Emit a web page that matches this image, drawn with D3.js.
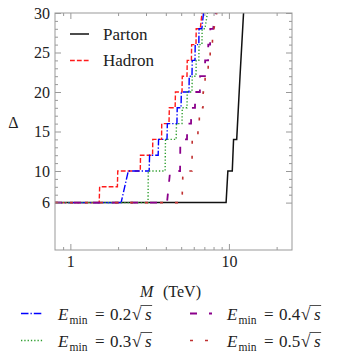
<!DOCTYPE html>
<html>
<head>
<meta charset="utf-8">
<script src="https://cdn.jsdelivr.net/npm/d3@7"></script>
<style>
body { margin: 0; background: #fff; }
text { font-family: "Liberation Serif", "DejaVu Serif", serif; fill: #222; }
</style>
</head>
<body>
<div id="chart"></div>
<script>
// step curves, mass M (TeV) vs Delta
var partonM = [0.8, 9.6, 9.85, 10.5, 10.7, 11.2, 11.75, 12.45];
var partonD = [6, 6, 10, 10, 14, 14, 22, 31];

var hadronM = [0.8, 1.52, 1.53, 1.98, 1.99, 2.76, 2.77, 3.30, 3.31, 3.76, 3.77, 4.19, 4.21, 4.58, 4.60, 5.06, 5.08, 5.44, 5.46, 5.80, 5.82, 6.20, 6.22, 6.60, 6.85];
var hadronD = [6, 6, 8, 8, 10, 10, 12, 12, 14, 14, 16, 16, 18, 18, 20, 20, 22, 22, 24, 24, 26, 26, 28, 28, 31];

var e02M = [0.8, 2.09, 2.32, 3.14, 3.16, 3.58, 3.60, 4.07, 4.09, 4.70, 4.72, 4.99, 5.01, 5.60, 5.62, 5.85, 5.87, 6.11, 6.13, 6.46, 6.48, 6.75, 7.0];
var e02D = [6, 6, 10, 10, 12, 12, 14, 14, 16, 16, 18, 18, 20, 20, 22, 22, 24, 24, 26, 26, 28, 28, 31];

var e03M = [0.8, 3.09, 3.10, 3.96, 3.98, 4.65, 4.67, 5.06, 5.08, 5.44, 5.46, 5.85, 5.87, 6.20, 6.22, 6.46, 6.48, 6.76, 6.78, 7.06, 7.45];
var e03D = [6, 6, 10, 10, 14, 14, 16, 16, 18, 18, 20, 20, 22, 22, 24, 24, 26, 26, 28, 28, 31];

var e04M = [0.8, 4.07, 4.26, 4.92, 4.94, 5.44, 5.46, 5.77, 5.79, 6.11, 6.13, 6.56, 6.58, 7.06, 7.08, 7.39, 7.41, 7.61, 7.63, 7.95, 8.40];
var e04D = [6, 6, 10, 10, 14, 14, 16, 16, 18, 18, 20, 20, 22, 22, 24, 24, 26, 26, 28, 28, 31];

var e05M = [0.8, 5.06, 5.13, 5.85, 5.87, 6.37, 6.39, 6.50, 6.52, 6.86, 6.88, 7.06, 7.08, 7.39, 7.41, 7.61, 7.63, 7.87, 7.89, 8.05, 8.55];
var e05D = [6, 6, 10, 10, 14, 14, 16, 16, 18, 18, 20, 20, 22, 22, 24, 24, 26, 26, 28, 28, 31];

var xMajor = [1, 10];
var xMinor = [0.9, 2, 3, 4, 5, 6, 7, 8, 9, 20];
var yMajor = [6, 10, 15, 20, 25, 30];
var yMinor = [7, 8, 9, 11, 12, 13, 14, 16, 17, 18, 19, 21, 22, 23, 24, 26, 27, 28, 29];
var eminLabels = ["0.2", "0.3", "0.4", "0.5"];

var pLeft = 55, pRight = 292, pTop = 13, pBottom = 250;
var serif = "'Liberation Serif', 'DejaVu Serif', serif";

var svg = d3.select("#chart").
  append("svg").
  attr("width", 339).
  attr("height", 363);

var x = d3.scaleLog().domain([0.8, 25]).range([pLeft, pRight]);
var y = d3.scaleLinear().domain([0, 30]).range([pBottom, pTop]);

svg.append("clipPath").attr("id", "clip").
  append("rect").
  attr("x", pLeft).attr("y", pTop).
  attr("width", pRight - pLeft).attr("height", pBottom - pTop);

//curves
var line = d3.line().x(function(d){ return x(d[0]); }).y(function(d){ return y(d[1]); });

var series = [
  {m: partonM, d: partonD, color: "#111", dash: null, w: 1.5},
  {m: hadronM, d: hadronD, color: "#ff1a1a", dash: "4.8,2.1", w: 1.4},
  {m: e02M, d: e02D, color: "#0000ff", dash: "7.5,2,1.3,2", w: 1.4},
  {m: e03M, d: e03D, color: "#2e9e2e", dash: "1.3,2", w: 1.4},
  {m: e04M, d: e04D, color: "#8b008b", dash: "7,12", w: 1.8},
  {m: e05M, d: e05D, color: "#c03030", dash: "3,12", w: 1.6}
];

var plot = svg.append("g").attr("clip-path", "url(#clip)");
for (var i = 0; i < series.length; i++) {
  plot.append("path").
    attr("d", line(d3.zip(series[i].m, series[i].d))).
    attr("fill", "none").
    attr("stroke", series[i].color).
    attr("stroke-width", series[i].w).
    attr("stroke-dasharray", series[i].dash);
}

//axes, ticks point inward
var axisColor = "#999";
function styleAxis(g) {
  g.attr("font-family", null);
  g.select(".domain").remove();
  g.selectAll(".tick line").attr("stroke", axisColor);
  g.selectAll(".tick text").attr("fill", "#222").style("font-size", "16px").
    style("font-family", serif);
}

svg.append("g").attr("transform", "translate(0," + pBottom + ")").
  call(d3.axisBottom(x).tickValues(xMajor).tickSize(-6).tickPadding(5.5).tickFormat(d3.format("d"))).
  call(styleAxis);
svg.append("g").attr("transform", "translate(0," + pBottom + ")").
  call(d3.axisBottom(x).tickValues(xMinor).tickSize(-3).tickFormat("")).
  call(styleAxis);
svg.append("g").attr("transform", "translate(0," + pTop + ")").
  call(d3.axisTop(x).tickValues(xMajor).tickSize(-6).tickFormat("")).
  call(styleAxis);
svg.append("g").attr("transform", "translate(0," + pTop + ")").
  call(d3.axisTop(x).tickValues(xMinor).tickSize(-3).tickFormat("")).
  call(styleAxis);

svg.append("g").attr("transform", "translate(" + pLeft + ",0)").
  call(d3.axisLeft(y).tickValues(yMajor).tickSize(-6).tickPadding(5)).
  call(styleAxis);
svg.append("g").attr("transform", "translate(" + pLeft + ",0)").
  call(d3.axisLeft(y).tickValues(yMinor).tickSize(-3).tickFormat("")).
  call(styleAxis);
svg.append("g").attr("transform", "translate(" + pRight + ",0)").
  call(d3.axisRight(y).tickValues(yMajor).tickSize(-6).tickFormat("")).
  call(styleAxis);
svg.append("g").attr("transform", "translate(" + pRight + ",0)").
  call(d3.axisRight(y).tickValues(yMinor).tickSize(-3).tickFormat("")).
  call(styleAxis);

svg.append("rect").
  attr("x", pLeft).attr("y", pTop).
  attr("width", pRight - pLeft).attr("height", pBottom - pTop).
  attr("fill", "none").
  attr("stroke", axisColor).
  attr("stroke-width", 1);

//axis labels
svg.append("text").
  attr("x", 13.5).attr("y", 128).
  attr("text-anchor", "middle").
  style("font-size", "16px").
  text("Δ");

var xl = svg.append("text").attr("y", 297).style("font-size", "16px");
xl.append("tspan").attr("x", 140).style("font-style", "italic").text("M");
xl.append("tspan").attr("x", 163).text("(TeV)");

//legend inside plot
var topLeg = [["Parton", 0, 39.5], ["Hadron", 1, 66]];
for (var k = 0; k < topLeg.length; k++) {
  var s = series[topLeg[k][1]];
  svg.append("line").
    attr("x1", 70).attr("x2", 89).
    attr("y1", topLeg[k][2] - 5.5).attr("y2", topLeg[k][2] - 5.5).
    attr("stroke", s.color).attr("stroke-width", s.w).
    attr("stroke-dasharray", s.dash);
  svg.append("text").
    attr("x", 103).attr("y", topLeg[k][2]).
    style("font-size", "17px").
    text(topLeg[k][0]);
}

//legend below
function eminLabel(x0, y0, num) {
  var t = svg.append("text").attr("y", y0).style("font-size", "17px");
  t.append("tspan").attr("x", x0).style("font-style", "italic").text("E");
  t.append("tspan").attr("x", x0 + 11.5).attr("dy", 3.5).style("font-size", "11.5px").text("min");
  t.append("tspan").attr("x", x0 + 37).attr("dy", -3.5).text("=");
  t.append("tspan").attr("x", x0 + 52).text(num);
  t.append("tspan").attr("x", x0 + 74).text("√");
  t.append("tspan").attr("x", x0 + 87).style("font-style", "italic").text("s");
  var r = t.node().getExtentOfChar(8);
  var c = t.node().getExtentOfChar(9);
  svg.append("line").
    attr("x1", r.x + r.width - 0.8).attr("x2", c.x + c.width + 0.5).
    attr("y1", y0 - 14.5).attr("y2", y0 - 14.5).
    attr("stroke", "#222").attr("stroke-width", 0.8);
}

var legPos = [[21, 58, 320], [21, 58, 347], [190, 227, 320], [190, 227, 347]];
for (var j = 0; j < 4; j++) {
  var s2 = series[j + 2];
  svg.append("line").
    attr("x1", legPos[j][0]).attr("x2", legPos[j][0] + 22).
    attr("y1", legPos[j][2] - 6.5).attr("y2", legPos[j][2] - 6.5).
    attr("stroke", s2.color).attr("stroke-width", s2.w).
    attr("stroke-dasharray", s2.dash);
  eminLabel(legPos[j][1], legPos[j][2], eminLabels[j]);
}
</script>
</body>
</html>
